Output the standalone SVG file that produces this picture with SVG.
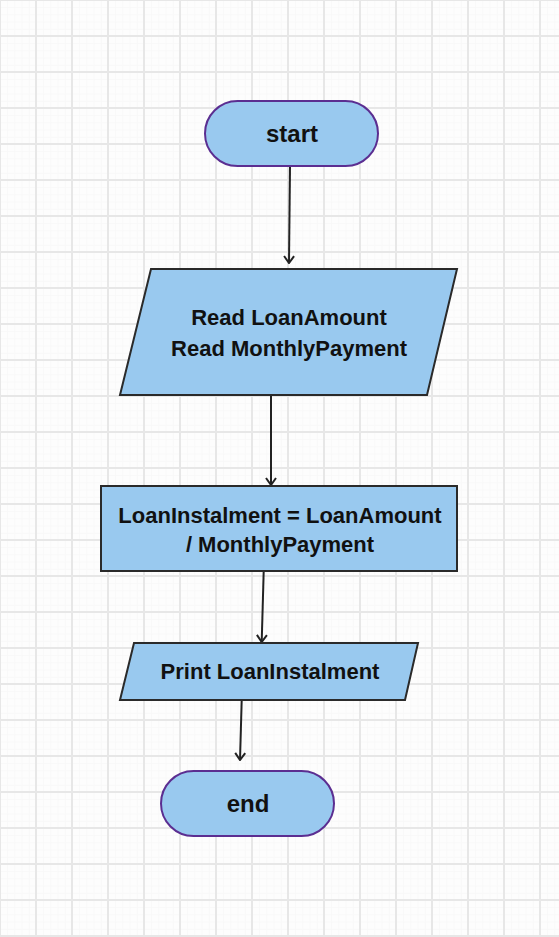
<svg xmlns="http://www.w3.org/2000/svg" width="559" height="937" viewBox="0 0 559 937">
<defs>
<pattern id="minor" width="7.2" height="7.2" patternUnits="userSpaceOnUse">
<path d="M0 0.5H7.2M0.5 0V7.2" stroke="#f8f8f8" stroke-width="1" fill="none"/>
</pattern>
<pattern id="major" x="-1" y="-1" width="36" height="36" patternUnits="userSpaceOnUse">
<path d="M0 1H36M1 0V36" stroke="#e7e7e7" stroke-width="2" fill="none"/>
</pattern>
<marker id="arr" viewBox="0 0 12 12" refX="11" refY="6" markerWidth="12" markerHeight="12" markerUnits="userSpaceOnUse" orient="auto">
<path d="M4 1 L11 6 L4 11" fill="none" stroke="#222" stroke-width="2"/>
</marker>
</defs>
<style>
.term{fill:#99c9ef;stroke:#5b2e91;stroke-width:2}
.box{fill:#99c9ef;stroke:#2a2a2a;stroke-width:2}
.t{font-family:"Liberation Sans",Arial,sans-serif;font-weight:bold;fill:#111;text-anchor:middle}
.conn{fill:none;stroke:#222;stroke-width:2;marker-end:url(#arr)}
</style>
<rect width="559" height="937" fill="#fdfdfd"/>
<rect width="559" height="937" fill="url(#minor)"/>
<rect width="559" height="937" fill="url(#major)"/>
<g id="connectors">
<path class="conn" d="M290 167 L289 263"/>
<path class="conn" d="M271 395 L271 485"/>
<path class="conn" d="M263.7 571 L261.7 642"/>
<path class="conn" d="M241.7 700 L240 760"/>
</g>
<g id="start">
<rect class="term" x="205" y="101" width="173" height="65" rx="32.5"/>
<text class="t" x="292" y="142" font-size="24">start</text>
</g>
<g id="read">
<polygon class="box" points="151,269 457,269 427,395 120,395"/>
<text class="t" x="289" y="325" font-size="22">Read LoanAmount</text>
<text class="t" x="289" y="356" font-size="22">Read MonthlyPayment</text>
</g>
<g id="compute">
<rect class="box" x="101" y="486" width="356" height="85"/>
<text class="t" x="280" y="523" font-size="22">LoanInstalment = LoanAmount</text>
<text class="t" x="280" y="552" font-size="22">/ MonthlyPayment</text>
</g>
<g id="print">
<polygon class="box" points="134,643 418,643 405,700 120,700"/>
<text class="t" x="270" y="679" font-size="22">Print LoanInstalment</text>
</g>
<g id="end">
<rect class="term" x="161" y="771" width="173" height="65" rx="32.5"/>
<text class="t" x="248" y="812" font-size="24">end</text>
</g>
</svg>
